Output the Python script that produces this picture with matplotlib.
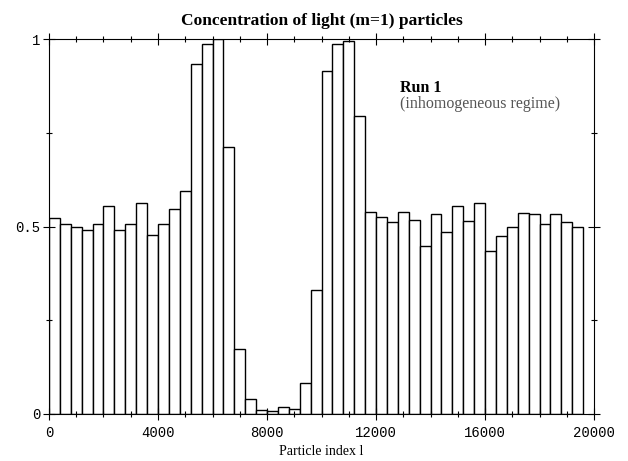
import numpy as np
import matplotlib
matplotlib.use('Agg')
import matplotlib.pyplot as plt
from matplotlib.ticker import MultipleLocator

# bar start positions (width 400) and concentration values
bin_width = 400
concentration = [0.522, 0.508, 0.498, 0.492, 0.506, 0.555, 0.490, 0.506, 0.562, 0.477,
                 0.506, 0.548, 0.596, 0.933, 0.986, 1.000, 0.713, 0.173, 0.039, 0.011,
                 0.007, 0.018, 0.013, 0.082, 0.332, 0.915, 0.986, 0.996, 0.796, 0.538,
                 0.525, 0.511, 0.538, 0.518, 0.449, 0.533, 0.485, 0.556, 0.516, 0.562,
                 0.434, 0.475, 0.500, 0.536, 0.534, 0.506, 0.534, 0.511, 0.498]
bin_start = np.arange(len(concentration)) * bin_width

xticks = [0, 4000, 8000, 12000, 16000, 20000]
yticks = [0, 0.5, 1]
ytick_labels = ['0', '0.5', '1']

fig = plt.figure(figsize=(6.28, 4.61), dpi=100)
ax = fig.add_axes([0.078, 0.102, 0.868, 0.813])

ax.bar(bin_start, concentration, width=bin_width, align='edge',
       facecolor='white', edgecolor='black', linewidth=1.0)

ax.set_xlim(0, 20000)
ax.set_ylim(0, 1)
ax.set_xticks(xticks)
ax.set_xticklabels([str(t) for t in xticks], family='Liberation Mono', fontsize=10)
ax.xaxis.set_minor_locator(MultipleLocator(1000))
ax.set_yticks(yticks)
ax.set_yticklabels(ytick_labels, family='Liberation Mono', fontsize=10)
ax.yaxis.set_minor_locator(MultipleLocator(0.25))
ax.tick_params(which='both', direction='inout', top=True, right=True)
ax.tick_params(which='major', length=8, width=0.8)
ax.tick_params(which='minor', length=4, width=0.8)
ax.tick_params(axis='y', pad=2)
ax.tick_params(axis='x', pad=5)

for s in ax.spines.values():
    s.set_linewidth(0.8)

ax.set_title('Concentration of light (m=1) particles', family='Liberation Serif',
             fontweight='bold', fontsize=12.5, pad=10)
ax.set_xlabel('Particle index l', family='Liberation Serif', fontsize=10, labelpad=3)

ax.text(12880, 0.869, 'Run 1', family='Liberation Serif', fontweight='bold',
        fontsize=11.5, ha='left', va='center')
ax.text(12880, 0.827, '(inhomogeneous regime)', family='Liberation Serif',
        fontsize=11.5, color='#555555', ha='left', va='center')

fig.savefig('out.png', dpi=100)
